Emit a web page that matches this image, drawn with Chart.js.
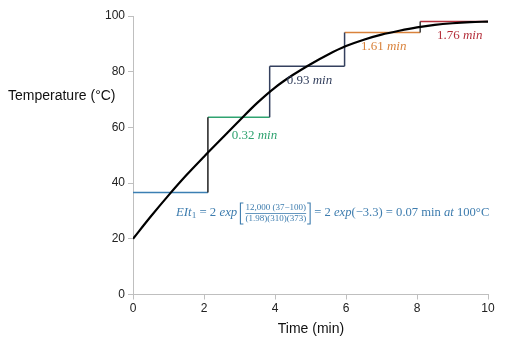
<!DOCTYPE html>
<html>
<head>
<meta charset="utf-8">
<script src="https://cdn.jsdelivr.net/npm/chart.js@4/dist/chart.umd.min.js"></script>
<style>
  html, body { margin: 0; padding: 0; background: #fff; }
  #wrap { width: 527px; height: 347px; }
</style>
</head>
<body>
<div id="wrap"><canvas id="chart" width="527" height="347"></canvas></div>
<script>
// heating curve
const times = [0, 0.5, 1, 1.5, 2, 2.5, 3, 3.5, 4, 4.5, 5, 5.5, 6, 6.5, 7, 7.5, 8, 8.5, 9, 9.5, 10];
const temps = [20, 28, 35.6, 42.8, 49.5, 56, 62.5, 68.8, 74.3, 78.8, 82.7, 86.2, 89.2, 91.5, 93.3, 94.7, 95.9, 96.8, 97.4, 97.8, 98];

// step approximation: interval edges and level temperatures
const stepTimes = [0, 2.11, 3.85, 5.96, 8.09, 10];
const stepTemps = [36.6, 63.6, 82.0, 94.1, 98.0];
const stepLabels = ['0.32', '0.93', '1.61', '1.76'];

const xTicks = [0, 2, 4, 6, 8, 10];
const yTicks = [0, 20, 40, 60, 80, 100];

const levelColors = ['#3b7fb3', '#2fa370', '#34405e', '#d9823b', '#b5303c'];
const riseColors = ['#1f1f1f', '#34405e', '#34405e', '#3a3a3a'];
const labelColors = ['#2fa370', '#34405e', '#d9823b', '#b5303c'];
const eqColor = '#3d7cae';

const datasets = [{
    data: times.map((t, i) => ({ x: t, y: temps[i] })),
    borderColor: '#000',
    borderWidth: 2.2,
    pointRadius: 0,
    cubicInterpolationMode: 'monotone',
    showLine: true,
    order: 0
}];

stepTemps.forEach((v, i) => {
    datasets.push({
        data: [{ x: stepTimes[i], y: v }, { x: stepTimes[i + 1], y: v }],
        borderColor: levelColors[i], borderWidth: 1.5, pointRadius: 0, showLine: true, order: 2
    });
    if (i < stepTemps.length - 1) {
        datasets.push({
            data: [{ x: stepTimes[i + 1], y: v }, { x: stepTimes[i + 1], y: stepTemps[i + 1] }],
            borderColor: riseColors[i], borderWidth: 1.5, pointRadius: 0, showLine: true, order: 1
        });
    }
});

function drawRuns(ctx, runs, x, y, size) {
    runs.forEach(r => {
        const s = r.small ? size * 0.72 : size;
        ctx.font = (r.it ? 'italic ' : '') + s + 'px "Liberation Serif", serif';
        ctx.fillText(r.t, x, y + (r.sub ? 3 : 0));
        x += ctx.measureText(r.t).width;
    });
    return x;
}

const textPlugin = {
    id: 'texts',
    afterDraw(chart) {
        const ctx = chart.ctx;
        const xs = chart.scales.x;
        ctx.save();
        ctx.textBaseline = 'middle';

        // axis titles
        ctx.fillStyle = '#111';
        ctx.font = '14px "Liberation Sans", Arial, sans-serif';
        ctx.textAlign = 'left';
        ctx.fillText('Temperature (°C)', 8, 96);
        ctx.textAlign = 'center';
        ctx.fillText('Time (min)', 311, 329);

        // step labels
        ctx.textAlign = 'left';
        const labelPos = [[2.78, 136], [4.33, 81], [6.42, 47], [8.56, 36]];
        stepLabels.forEach((s, i) => {
            ctx.fillStyle = labelColors[i];
            drawRuns(ctx, [{ t: s + ' ' }, { t: 'min', it: true }], xs.getPixelForValue(labelPos[i][0]), labelPos[i][1], 13);
        });

        // equation
        ctx.fillStyle = eqColor;
        ctx.strokeStyle = eqColor;
        const cy = 213;
        let x = drawRuns(ctx, [
            { t: 'EIt', it: true }, { t: '1', small: true, sub: true },
            { t: ' = 2 ' }, { t: 'exp', it: true }, { t: ' ' }
        ], 176, cy, 12.8);
        // bracket + fraction
        ctx.font = '9px "Liberation Serif", serif';
        const num = '12,000 (37\u2212100)';
        const den = '(1.98)(310)(373)';
        const fw = Math.max(ctx.measureText(num).width, ctx.measureText(den).width);
        const bl = x, fx = bl + 5, br = fx + fw + 4;
        ctx.lineWidth = 1.1;
        ctx.beginPath();
        ctx.moveTo(bl + 3, cy - 10); ctx.lineTo(bl, cy - 10); ctx.lineTo(bl, cy + 11); ctx.lineTo(bl + 3, cy + 11);
        ctx.moveTo(br - 3, cy - 10); ctx.lineTo(br, cy - 10); ctx.lineTo(br, cy + 11); ctx.lineTo(br - 3, cy + 11);
        ctx.stroke();
        ctx.lineWidth = 0.8;
        ctx.beginPath();
        ctx.moveTo(fx, cy + 0.5); ctx.lineTo(fx + fw, cy + 0.5);
        ctx.stroke();
        ctx.textAlign = 'center';
        ctx.fillText(num, fx + fw / 2, cy - 5);
        ctx.fillText(den, fx + fw / 2, cy + 6);
        ctx.textAlign = 'left';
        drawRuns(ctx, [
            { t: ' = 2 ' }, { t: 'exp', it: true }, { t: '(\u22123.3) = 0.07 min ' },
            { t: 'at', it: true }, { t: ' 100°C' }
        ], br + 1, cy, 12.6);

        ctx.restore();
    }
};

const axisColor = '#bfbfbf';
const tickFont = { family: '"Liberation Sans", Arial, sans-serif', size: 12 };

new Chart(document.getElementById('chart'), {
    type: 'scatter',
    data: { datasets: datasets },
    options: {
        responsive: false,
        animation: false,
        layout: { padding: { top: 16, right: 39, left: 0, bottom: 0 } },
        plugins: { legend: { display: false }, tooltip: { enabled: false } },
        scales: {
            x: {
                type: 'linear', min: 0, max: 10,
                afterBuildTicks: s => { s.ticks = xTicks.map(v => ({ value: v })); },
                afterFit: s => { s.height = 52.5; },
                ticks: { font: tickFont, color: '#222', padding: 2, maxRotation: 0 },
                grid: { drawOnChartArea: false, color: axisColor, tickLength: 5 },
                border: { color: axisColor, width: 1 }
            },
            y: {
                type: 'linear', min: 0, max: 100,
                afterBuildTicks: s => { s.ticks = yTicks.map(v => ({ value: v })); },
                afterFit: s => { s.width = 133; },
                ticks: { font: tickFont, color: '#222', padding: 3 },
                grid: { drawOnChartArea: false, color: axisColor, tickLength: 5 },
                border: { color: axisColor, width: 1 }
            }
        }
    },
    plugins: [textPlugin]
});
</script>
</body>
</html>
